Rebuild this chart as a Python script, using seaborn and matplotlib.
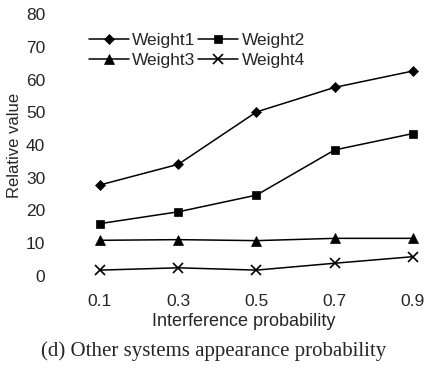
import numpy as np
import pandas as pd
import matplotlib
matplotlib.use('Agg')
import matplotlib.pyplot as plt
import seaborn as sns

# 数据
x_vals = [0.1, 0.3, 0.5, 0.7, 0.9]
weight1 = [27.8, 34.1, 50.1, 57.6, 62.6]
weight2 = [16.0, 19.6, 24.7, 38.5, 43.5]
weight3 = [10.9, 11.1, 10.8, 11.5, 11.5]
weight4 = [1.8, 2.5, 1.8, 3.9, 5.9]
names = ['Weight1', 'Weight2', 'Weight3', 'Weight4']
markers = ['D', 's', '^', 'x']
msizes = [5.5, 5.5, 6.5, 6.5]

sns.set_style('white')
plt.rcParams['font.family'] = ['Liberation Sans', 'DejaVu Sans']

fig = plt.figure(figsize=(4.27, 3.68), dpi=100)
ax = fig.add_axes([62/427, 92/368, 363/427, 262/368])

for name, vals, m, ms in zip(names, [weight1, weight2, weight3, weight4], markers, msizes):
    sns.lineplot(x=x_vals, y=vals, marker=m, color='black', label=name,
                 markersize=ms, linewidth=1.1,
                 markeredgecolor='black', markeredgewidth=1.2 if m == 'x' else 0.5,
                 ax=ax, clip_on=False)

ax.axhline(0, color='#bbbbbb', ls=':', lw=0.8, zorder=0)
ax.set_xlim(0.0029, 0.9307)
ax.set_ylim(0, 80)
ax.set_xticks(x_vals)
ax.set_xticklabels(['0.1', '0.3', '0.5', '0.7', '0.9'])
ax.set_yticks(range(0, 81, 10))
for s in ax.spines.values():
    s.set_visible(False)
ax.tick_params(axis='both', labelsize=12.5, length=0)
ax.tick_params(axis='y', pad=12)
ax.tick_params(axis='x', pad=13)
ax.set_xlabel('Interference probability', fontsize=13, labelpad=3)
ax.set_ylabel('Relative value', fontsize=12, labelpad=3)

h, l = ax.get_legend_handles_labels()
order = [0, 2, 1, 3]
ax.legend([h[i] for i in order], [l[i] for i in order], ncol=2, frameon=False,
          loc='upper left', bbox_to_anchor=(80/427, 1 - 24/368),
          bbox_transform=fig.transFigure,
          handlelength=2.3, handletextpad=0.2, columnspacing=0.15,
          labelspacing=0.3, fontsize=12.5, borderpad=0)

fig.text(0.5, 1 - 351/368, '(d) Other systems appearance probability',
         ha='center', va='center', fontsize=15, family='Liberation Serif')

fig.savefig('out.png', dpi=100)
